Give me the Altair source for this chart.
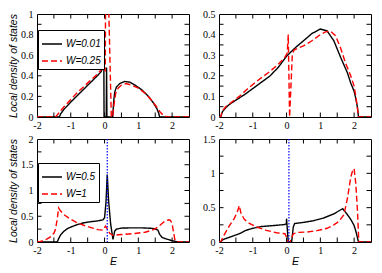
import altair as alt
import pandas as pd

# ---------------- data ----------------
X_DOMAIN = [-2, 2.5]
X_LABELS = [-2, -1, 0, 1, 2]
X_TICKS = [-1.5, -1, -0.5, 0, 0.5, 1, 1.5, 2]

# top-left panel
P1_NAMES = ["W=0.01", "W=0.25"]
P1_BLACK_E = [-2.0, -1.34, -1.3, -1.2, -1.0, -0.8, -0.6, -0.4, -0.2, -0.1, -0.06, -0.02, -0.015,
              0.05, 0.06, 0.07, 0.24, 0.27, 0.3, 0.35, 0.45, 0.6, 0.75, 0.9, 1.1, 1.3, 1.45, 1.55,
              1.6, 1.63, 2.5]
P1_BLACK_V = [0, 0, 0.03, 0.075, 0.145, 0.21, 0.275, 0.34, 0.405, 0.44, 0.475, 0.46, 0,
              0, 0.48, 0, 0, 0.15, 0.24, 0.29, 0.325, 0.345, 0.338, 0.31, 0.265, 0.2, 0.135, 0.08,
              0.04, 0, 0]
P1_RED_E = [-2.0, -1.45, -1.4, -1.3, -1.2, -1.0, -0.8, -0.6, -0.4, -0.2, -0.1, -0.06, -0.02, 0.02,
            0.03, 0.12, 0.2, 0.24, 0.28, 0.33, 0.4, 0.5, 0.64, 0.8, 1.0, 1.2, 1.4, 1.55, 1.65,
            1.75, 1.85, 2.5]
P1_RED_V = [0, 0, 0.02, 0.06, 0.1, 0.17, 0.24, 0.3, 0.36, 0.42, 0.46, 0.49, 0.46, 0.45,
            1.1, 1.1, 0, 0, 0.12, 0.23, 0.28, 0.31, 0.325, 0.31, 0.28, 0.23, 0.16, 0.095, 0.045,
            0.015, 0, 0]
P1_Y_LABELS = [0, 0.2, 0.4, 0.6, 0.8, 1]
P1_Y_TICKS = [0.1, 0.2, 0.3, 0.4, 0.5, 0.6, 0.7, 0.8, 0.9]

# top-right panel
P2_BLACK_E = [-2.0, -1.95, -1.9, -1.8, -1.7, -1.5, -1.25, -1.0, -0.75, -0.5, -0.25, 0.0, 0.25,
              0.5, 0.75, 1.0, 1.2, 1.4, 1.6, 1.8, 1.9, 2.0, 2.05, 2.1, 2.13, 2.5]
P2_BLACK_V = [0, 0, 0.025, 0.045, 0.06, 0.082, 0.108, 0.138, 0.168, 0.198, 0.24, 0.295, 0.335,
              0.37, 0.405, 0.427, 0.418, 0.37, 0.29, 0.215, 0.165, 0.125, 0.09, 0.045, 0, 0]
P2_RED_E = [-2.0, -1.95, -1.9, -1.8, -1.6, -1.4, -1.2, -1.0, -0.75, -0.5, -0.25, -0.05, 0.02,
            0.05, 0.09, 0.17, 0.22, 0.35, 0.5, 0.75, 1.0, 1.15, 1.3, 1.45, 1.6, 1.75, 1.9, 2.0,
            2.06, 2.1, 2.13, 2.5]
P2_RED_V = [0, 0, 0.03, 0.05, 0.075, 0.1, 0.13, 0.158, 0.19, 0.22, 0.255, 0.29, 0.31,
            0.40, 0, 0.3, 0.325, 0.335, 0.345, 0.37, 0.4, 0.413, 0.417, 0.395, 0.335, 0.26, 0.2,
            0.15, 0.09, 0.04, 0, 0]
P2_Y_LABELS = [0, 0.1, 0.2, 0.3, 0.4, 0.5]
P2_Y_TICKS = [0.05, 0.1, 0.15, 0.2, 0.25, 0.3, 0.35, 0.4, 0.45]

# bottom-left panel
P3_NAMES = ["W=0.5", "W=1"]
P3_BLACK_E = [-2.0, -1.4, -1.37, -1.3, -1.2, -1.1, -1.0, -0.8, -0.6, -0.4, -0.2, -0.05, 0.0,
              0.04, 0.08, 0.12, 0.18, 0.25, 0.3, 0.35, 0.5, 0.8, 1.1, 1.4, 1.5, 1.58, 1.63, 1.7,
              1.8, 1.9, 2.0, 2.1, 2.2, 2.5]
P3_BLACK_V = [0, 0, 0.05, 0.14, 0.21, 0.26, 0.29, 0.34, 0.375, 0.395, 0.41, 0.43, 0.47,
              0.75, 1.31, 0.8, 0.35, 0.05, 0.21, 0.25, 0.27, 0.275, 0.275, 0.265, 0.255, 0.23,
              0.15, 0.09, 0.065, 0.045, 0.025, 0.01, 0, 0]
P3_RED_E = [-2.0, -1.9, -1.8, -1.7, -1.6, -1.5, -1.45, -1.4, -1.36, -1.3, -1.2, -1.0, -0.8, -0.6,
            -0.4, -0.2, -0.05, 0.03, 0.08, 0.15, 0.25, 0.4, 0.6, 0.9, 1.2, 1.45, 1.6, 1.7, 1.8,
            1.9, 1.95, 2.0, 2.04, 2.08, 2.12, 2.5]
P3_RED_V = [0, 0.01, 0.03, 0.06, 0.1, 0.17, 0.25, 0.45, 0.66, 0.6, 0.53, 0.44, 0.37, 0.32,
            0.28, 0.24, 0.23, 0.31, 0.25, 0.17, 0.13, 0.14, 0.15, 0.165, 0.19, 0.24, 0.3, 0.36,
            0.41, 0.43, 0.42, 0.36, 0.2, 0.05, 0, 0]
P3_Y_LABELS = [0, 0.5, 1, 1.5, 2]
P3_Y_TICKS = [0.25, 0.5, 0.75, 1, 1.25, 1.5, 1.75]
P3_FERMI = [0.08]

# bottom-right panel
P4_BLACK_E = [-2.0, -1.95, -1.9, -1.8, -1.6, -1.4, -1.2, -1.0, -0.75, -0.5, -0.25, -0.05, -0.005,
              0.0, 0.05, 0.15, 0.2, 0.24, 0.5, 0.8, 1.1, 1.4, 1.66, 1.8, 1.9, 2.0, 2.05, 2.1,
              2.13, 2.5]
P4_BLACK_V = [0, 0, 0.03, 0.05, 0.085, 0.12, 0.17, 0.2, 0.225, 0.235, 0.245, 0.255, 0.265,
              0.34, 0, 0, 0.22, 0.27, 0.285, 0.31, 0.35, 0.41, 0.485, 0.4, 0.33, 0.24, 0.16,
              0.06, 0, 0]
P4_RED_E = [-2.0, -1.95, -1.85, -1.7, -1.55, -1.45, -1.4, -1.35, -1.25, -1.1, -0.9, -0.6, -0.3,
            -0.05, 0.02, 0.05, 0.1, 0.2, 0.35, 0.6, 0.9, 1.2, 1.4, 1.55, 1.7, 1.8, 1.9, 1.95,
            2.0, 2.05, 2.1, 2.14, 2.5]
P4_RED_V = [0, 0, 0.1, 0.23, 0.34, 0.45, 0.53, 0.42, 0.33, 0.27, 0.22, 0.17, 0.135,
            0.12, 0.05, 0, 0, 0.12, 0.14, 0.145, 0.165, 0.2, 0.25, 0.3, 0.4, 0.63, 0.94, 1.03,
            1.07, 0.85, 0.45, 0, 0]
P4_Y_LABELS = [0, 0.5, 1, 1.5]
P4_Y_TICKS = [0.25, 0.5, 0.75, 1, 1.25]
P4_FERMI = [0.07]

Y_TITLE = "Local density of states"
X_TITLE = "E"

# ---------------- styling ----------------
W, H = 152, 103
TICK = 4.5
SERIF = "Liberation Serif"
SANS = "Liberation Sans"
LABEL_EXPR = "(datum.value < 0 ? '-' : '') + format(abs(datum.value), '~g')"


def make_axis(values, title, label_pad, title_pad):
    kw = dict(values=values, labelExpr=LABEL_EXPR, grid=False, ticks=False, domain=False,
              labelFont=SERIF, labelFontSize=10, labelColor="black", labelPadding=label_pad,
              labelFlush=False, labelOverlap=False,
              titleFont=SANS, titleFontStyle="italic", titleFontWeight="normal",
              titleFontSize=10.5, titleColor="black", titlePadding=title_pad)
    kw["title"] = title
    return alt.Axis(**kw)


def make_panel(names, be, bv, re_, rv, ylabels, yticks, ytitle, xtitle, legend_xy=None, fermi=None):
    rows = []
    for i, (e, v) in enumerate(zip(be, bv)):
        rows.append({"E": e, "v": v, "s": names[0], "i": i})
    for i, (e, v) in enumerate(zip(re_, rv)):
        rows.append({"E": e, "v": v, "s": names[1], "i": i})
    df = pd.DataFrame(rows)
    ydom = [ylabels[0], ylabels[-1]]
    xs = alt.Scale(domain=X_DOMAIN, nice=False, zero=False)
    ys = alt.Scale(domain=ydom, nice=False, zero=False)
    xax = make_axis(X_LABELS, xtitle, 3, 1)
    yax = make_axis(ylabels, ytitle, 4, 2)

    if legend_xy is not None:
        legend = alt.Legend(orient="none", legendX=legend_xy[0], legendY=legend_xy[1], title=None,
                            strokeColor="black", fillColor="white", padding=3, cornerRadius=0,
                            symbolType="stroke", symbolSize=400, symbolStrokeWidth=1.5,
                            labelFont=SANS, labelFontStyle="italic", labelFontSize=10,
                            labelColor="black", labelOffset=3, rowPadding=1)
    else:
        legend = None

    lines = alt.Chart(df).mark_line(clip=True, strokeWidth=1.4).encode(
        x=alt.X("E:Q", scale=xs, axis=xax),
        y=alt.Y("v:Q", scale=ys, axis=yax),
        color=alt.Color("s:N", scale=alt.Scale(domain=names, range=["black", "red"]), legend=legend),
        strokeDash=alt.StrokeDash("s:N", scale=alt.Scale(domain=names, range=[[1, 0], [6, 3]]),
                                  legend=legend),
        order="i:Q",
    )
    layers = [lines]
    if fermi is not None:
        layers.append(
            alt.Chart(pd.DataFrame({"E": fermi})).mark_rule(
                color="#0000ff", strokeDash=[1.5, 1.5], strokeWidth=1.2
            ).encode(x=alt.X("E:Q", scale=xs, axis=xax))
        )
    xt = pd.DataFrame({"E": X_TICKS})
    yt = pd.DataFrame({"v": yticks})
    layers += [
        alt.Chart(xt).mark_rule(color="black").encode(
            x=alt.X("E:Q", scale=xs, axis=xax), y=alt.value(H), y2=alt.value(H - TICK)),
        alt.Chart(xt).mark_rule(color="black").encode(
            x=alt.X("E:Q", scale=xs, axis=xax), y=alt.value(0), y2=alt.value(TICK)),
        alt.Chart(yt).mark_rule(color="black").encode(
            y=alt.Y("v:Q", scale=ys, axis=yax), x=alt.value(0), x2=alt.value(TICK)),
        alt.Chart(yt).mark_rule(color="black").encode(
            y=alt.Y("v:Q", scale=ys, axis=yax), x=alt.value(W), x2=alt.value(W - TICK)),
    ]
    return alt.layer(*layers).properties(width=W, height=H)


p1 = make_panel(P1_NAMES, P1_BLACK_E, P1_BLACK_V, P1_RED_E, P1_RED_V, P1_Y_LABELS, P1_Y_TICKS,
                Y_TITLE, None, legend_xy=(1, 16))
p2 = make_panel(P1_NAMES, P2_BLACK_E, P2_BLACK_V, P2_RED_E, P2_RED_V, P2_Y_LABELS, P2_Y_TICKS,
                None, None)
p3 = make_panel(P3_NAMES, P3_BLACK_E, P3_BLACK_V, P3_RED_E, P3_RED_V, P3_Y_LABELS, P3_Y_TICKS,
                Y_TITLE, X_TITLE, legend_xy=(1, 24), fermi=P3_FERMI)
p4 = make_panel(P3_NAMES, P4_BLACK_E, P4_BLACK_V, P4_RED_E, P4_RED_V, P4_Y_LABELS, P4_Y_TICKS,
                None, X_TITLE, fermi=P4_FERMI)

chart = alt.concat(p1, p2, p3, p4, columns=2, spacing={"row": 2, "column": 12}).resolve_scale(
    color="independent", strokeDash="independent"
).properties(
    padding={"left": 0, "top": 0, "right": 0, "bottom": 0}, background="white"
).configure_view(stroke="black", strokeWidth=1)

chart.save("out.html", embed_options={"renderer": "svg", "actions": False})
